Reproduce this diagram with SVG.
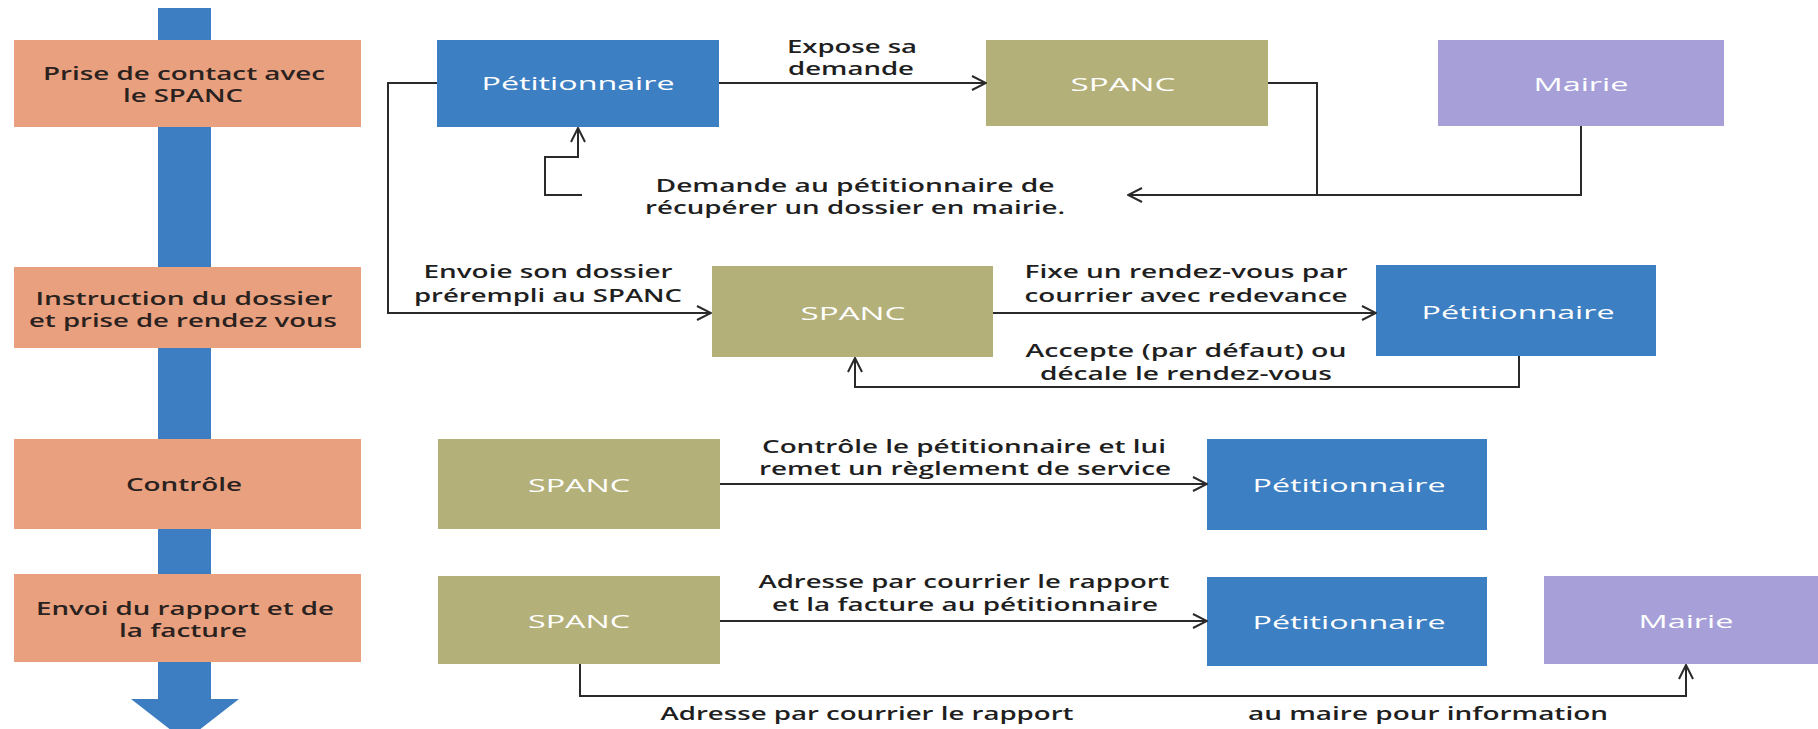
<svg xmlns="http://www.w3.org/2000/svg" width="1818" height="729" viewBox="0 0 1818 729">
<defs>
<style>
.t{font-family:"Open Sans","Liberation Sans",sans-serif;font-size:18px;text-anchor:middle}
.lb{font-weight:600;fill:#1f1f1f}
.st{font-weight:600;fill:#2a221e}
.nw{fill:#ffffff;font-weight:500}
.stage{fill:#e9a07f}
.pet{fill:#3d7fc3}
.spanc{fill:#b4b07a}
.mairie{fill:#a69fd8}
.conn path{fill:none;stroke:#2a2a2a;stroke-width:2}
</style>
<marker id="ah" viewBox="0 0 16 16" refX="15" refY="8" markerWidth="16" markerHeight="16" markerUnits="userSpaceOnUse" orient="auto">
<path d="M1,1 L15,8 L1,15" fill="none" stroke="#2a2a2a" stroke-width="2"/>
</marker>
</defs>
<rect width="1818" height="729" fill="#ffffff"/>
<g id="timeline">
<polygon points="158,8 211,8 211,699 239,699 185,741 131,699 158,699" fill="#3d7dc1"/>
</g>
<g id="stage1"><rect class="stage" x="14" y="40" width="347" height="87"/>
<text class="t st" x="184" y="80" textLength="282" lengthAdjust="spacingAndGlyphs">Prise de contact avec</text>
<text class="t st" x="183" y="102" textLength="120" lengthAdjust="spacingAndGlyphs">le SPANC</text></g>
<g id="stage2"><rect class="stage" x="14" y="267" width="347" height="81"/>
<text class="t st" x="184" y="305" textLength="297" lengthAdjust="spacingAndGlyphs">Instruction du dossier</text>
<text class="t st" x="183" y="327" textLength="308" lengthAdjust="spacingAndGlyphs">et prise de rendez vous</text></g>
<g id="stage3"><rect class="stage" x="14" y="439" width="347" height="90"/>
<text class="t st" x="184" y="491" textLength="116" lengthAdjust="spacingAndGlyphs">Contrôle</text></g>
<g id="stage4"><rect class="stage" x="14" y="574" width="347" height="88"/>
<text class="t st" x="185" y="615" textLength="298" lengthAdjust="spacingAndGlyphs">Envoi du rapport et de</text>
<text class="t st" x="183" y="637" textLength="128" lengthAdjust="spacingAndGlyphs">la facture</text></g>
<g id="pet1"><rect class="pet" x="437" y="40" width="282" height="87"/>
<text class="t nw" x="578" y="90" textLength="193" lengthAdjust="spacingAndGlyphs">Pétitionnaire</text></g>
<g id="spanc1"><rect class="spanc" x="986" y="40" width="282" height="86"/>
<text class="t nw" x="1123" y="91" textLength="105" lengthAdjust="spacingAndGlyphs">SPANC</text></g>
<g id="mairie1"><rect class="mairie" x="1438" y="40" width="286" height="86"/>
<text class="t nw" x="1581" y="91" textLength="95" lengthAdjust="spacingAndGlyphs">Mairie</text></g>
<g id="spanc2"><rect class="spanc" x="712" y="266" width="281" height="91"/>
<text class="t nw" x="853" y="320" textLength="105" lengthAdjust="spacingAndGlyphs">SPANC</text></g>
<g id="pet2"><rect class="pet" x="1376" y="265" width="280" height="91"/>
<text class="t nw" x="1518" y="319" textLength="193" lengthAdjust="spacingAndGlyphs">Pétitionnaire</text></g>
<g id="spanc3"><rect class="spanc" x="438" y="439" width="282" height="90"/>
<text class="t nw" x="579" y="492" textLength="102" lengthAdjust="spacingAndGlyphs">SPANC</text></g>
<g id="pet3"><rect class="pet" x="1207" y="439" width="280" height="91"/>
<text class="t nw" x="1349" y="492" textLength="193" lengthAdjust="spacingAndGlyphs">Pétitionnaire</text></g>
<g id="spanc4"><rect class="spanc" x="438" y="576" width="282" height="88"/>
<text class="t nw" x="579" y="628" textLength="102" lengthAdjust="spacingAndGlyphs">SPANC</text></g>
<g id="pet4"><rect class="pet" x="1207" y="577" width="280" height="89"/>
<text class="t nw" x="1349" y="629" textLength="193" lengthAdjust="spacingAndGlyphs">Pétitionnaire</text></g>
<g id="mairie4"><rect class="mairie" x="1544" y="576" width="274" height="88"/>
<text class="t nw" x="1686" y="628" textLength="95" lengthAdjust="spacingAndGlyphs">Mairie</text></g>
<g id="connectors" class="conn">
<path d="M719,83 H986" marker-end="url(#ah)"/>
<path d="M1268,83 H1317 V195 H1128" marker-end="url(#ah)"/>
<path d="M1581,126 V195 H1317"/>
<path d="M582,195 H545 V157 H578 V128" marker-end="url(#ah)"/>
<path d="M437,83 H388 V313 H711" marker-end="url(#ah)"/>
<path d="M993,313 H1376" marker-end="url(#ah)"/>
<path d="M1519,356 V387 H855 V358" marker-end="url(#ah)"/>
<path d="M720,484 H1207" marker-end="url(#ah)"/>
<path d="M720,621 H1207" marker-end="url(#ah)"/>
<path d="M580,664 V696 H1686 V665" marker-end="url(#ah)"/>
</g>
<g id="labels">
<text class="t lb" x="852" y="53" textLength="130" lengthAdjust="spacingAndGlyphs">Expose sa</text>
<text class="t lb" x="851" y="75" textLength="126" lengthAdjust="spacingAndGlyphs">demande</text>
<text class="t lb" x="855" y="192" textLength="399" lengthAdjust="spacingAndGlyphs">Demande au pétitionnaire de</text>
<text class="t lb" x="855" y="214" textLength="420" lengthAdjust="spacingAndGlyphs">récupérer un dossier en mairie.</text>
<text class="t lb" x="548" y="278" textLength="249" lengthAdjust="spacingAndGlyphs">Envoie son dossier</text>
<text class="t lb" x="548" y="302" textLength="268" lengthAdjust="spacingAndGlyphs">prérempli au SPANC</text>
<text class="t lb" x="1186" y="278" textLength="323" lengthAdjust="spacingAndGlyphs">Fixe un rendez-vous par</text>
<text class="t lb" x="1186" y="302" textLength="323" lengthAdjust="spacingAndGlyphs">courrier avec redevance</text>
<text class="t lb" x="1186" y="357" textLength="321" lengthAdjust="spacingAndGlyphs">Accepte (par défaut) ou</text>
<text class="t lb" x="1186" y="380" textLength="292" lengthAdjust="spacingAndGlyphs">décale le rendez-vous</text>
<text class="t lb" x="964" y="453" textLength="404" lengthAdjust="spacingAndGlyphs">Contrôle le pétitionnaire et lui</text>
<text class="t lb" x="965" y="475" textLength="412" lengthAdjust="spacingAndGlyphs">remet un règlement de service</text>
<text class="t lb" x="964" y="588" textLength="411" lengthAdjust="spacingAndGlyphs">Adresse par courrier le rapport</text>
<text class="t lb" x="965" y="611" textLength="386" lengthAdjust="spacingAndGlyphs">et la facture au pétitionnaire</text>
<text class="t lb" x="867" y="720" textLength="413" lengthAdjust="spacingAndGlyphs">Adresse par courrier le rapport</text>
<text class="t lb" x="1428" y="720" textLength="360" lengthAdjust="spacingAndGlyphs">au maire pour information</text>
</g>
</svg>
